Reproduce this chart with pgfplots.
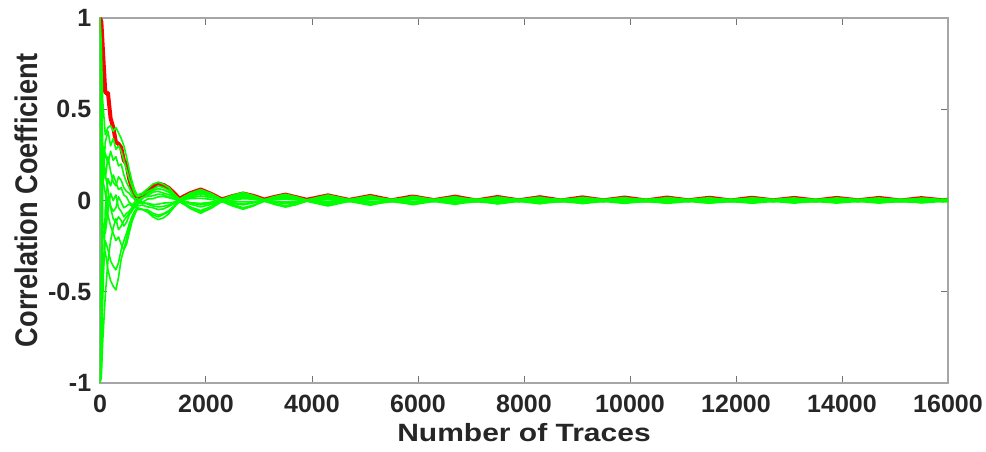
\documentclass[border=0pt]{standalone}
\usepackage{pgfplots}
\usepackage{pgfplotstable}
\pgfplotsset{compat=1.18}
\usepackage{fontspec}
\setmainfont{Liberation Sans}
\definecolor{mgreen}{RGB}{0,255,0}
\definecolor{mred}{RGB}{255,0,0}
\definecolor{txt}{RGB}{38,38,38}
\pgfplotstableread{
x r g1 g2 g3 g4 g5 g6 g7 g8 g9 g10 g11 g12
0 1.00 1.00 -1.00 1.00 -1.00 0.80 -1.00 1.00 -1.00 0.50 -0.60 1.00 -1.00
25 0.98 0.85 -0.70 0.40 -0.92 0.25 -0.97 -0.15 -0.82 0.30 -0.35 0.65 -0.55
50 0.85 0.55 0.05 0.18 -0.55 -0.12 -0.78 -0.32 -0.45 0.12 0.18 0.32 -0.22
100 0.59 0.36 0.32 0.26 -0.05 -0.18 -0.52 -0.28 -0.22 0.04 0.14 0.12 -0.12
150 0.59 0.40 0.38 0.20 0.12 -0.06 -0.33 -0.38 -0.27 -0.08 0.06 0.24 0.02
200 0.45 0.41 0.30 0.27 0.08 0.04 -0.22 -0.44 -0.33 -0.14 -0.04 0.16 -0.03
250 0.40 0.38 0.34 0.22 0.14 0.00 -0.15 -0.47 -0.36 -0.18 -0.10 0.10 -0.06
300 0.32 0.40 0.28 0.24 0.10 0.03 -0.10 -0.49 -0.38 -0.22 -0.12 0.08 -0.04
350 0.31 0.37 0.30 0.19 0.06 -0.04 -0.16 -0.42 -0.34 -0.20 -0.09 0.13 0.02
400 0.29 0.34 0.27 0.20 0.07 -0.06 -0.14 -0.32 -0.27 -0.24 -0.11 0.11 -0.01
450 0.22 0.30 0.22 0.14 0.03 -0.09 -0.11 -0.27 -0.22 -0.27 -0.14 0.07 -0.04
500 0.20 0.24 0.17 0.10 0.02 -0.07 -0.09 -0.21 -0.18 -0.24 -0.12 0.05 -0.03
550 0.12 0.17 0.12 0.07 -0.01 -0.06 -0.07 -0.15 -0.13 -0.18 -0.08 0.04 -0.02
600 0.07 0.11 0.08 0.04 -0.02 -0.04 -0.05 -0.11 -0.09 -0.12 -0.06 0.02 -0.03
650 0.02 0.06 0.04 0.01 -0.03 -0.02 -0.04 -0.07 -0.06 -0.08 -0.03 0.01 -0.01
700 0.00 0.03 0.02 -0.01 -0.02 -0.01 -0.03 -0.04 -0.04 -0.05 -0.02 0.01 0.00
800 0.030 0.040 0.030 0.015 -0.010 -0.018 -0.026 -0.050 -0.048 -0.050 0.010 -0.008 0.016
900 0.050 0.065 0.050 0.028 0.008 -0.015 -0.035 -0.052 -0.065 -0.060 0.038 -0.020 0.022
1000 0.075 0.090 0.062 0.046 0.010 -0.022 -0.040 -0.070 -0.090 -0.080 0.055 -0.030 0.026
1100 0.092 0.100 0.080 0.050 0.020 -0.020 -0.050 -0.080 -0.105 -0.090 0.065 -0.035 0.035
1200 0.085 0.088 0.070 0.040 0.022 -0.014 -0.046 -0.072 -0.095 -0.075 0.058 -0.032 0.030
1300 0.068 0.070 0.055 0.032 0.015 -0.012 -0.032 -0.055 -0.072 -0.062 0.045 -0.025 0.020
1400 0.040 0.036 0.026 0.018 0.008 -0.010 -0.016 -0.030 -0.036 -0.030 0.020 -0.008 0.010
1500 0.010 0.008 0.004 -0.003 0.006 -0.006 0.002 -0.008 -0.004 0.003 -0.005 0.005 -0.002
1700 0.040 0.040 0.033 0.020 0.010 -0.012 -0.020 -0.036 -0.044 -0.036 0.025 -0.012 0.014
1900 0.060 0.060 0.052 0.036 0.012 -0.016 -0.035 -0.055 -0.070 -0.062 0.044 -0.024 0.025
2100 0.036 0.038 0.030 0.023 0.006 -0.009 -0.022 -0.033 -0.042 -0.040 0.028 -0.015 0.016
2300 0.006 0.006 -0.002 0.004 -0.005 0.003 -0.004 0.005 -0.006 0.002 0.000 -0.003 0.004
2500 0.024 0.028 0.022 0.015 0.003 -0.004 -0.016 -0.022 -0.030 -0.026 0.018 -0.012 0.012
2700 0.038 0.044 0.036 0.022 0.010 -0.008 -0.024 -0.040 -0.048 -0.044 0.030 -0.018 0.016
2900 0.025 0.026 0.023 0.012 0.007 -0.006 -0.013 -0.025 -0.029 -0.028 0.019 -0.010 0.009
3100 0.005 0.004 0.003 -0.004 0.002 -0.003 0.004 -0.005 -0.002 0.005 -0.003 0.001 -0.004
3300 0.020 0.022 0.016 0.011 0.004 -0.006 -0.010 -0.019 -0.022 -0.018 0.014 -0.008 0.006
3500 0.032 0.034 0.028 0.016 0.008 -0.008 -0.018 -0.029 -0.036 -0.032 0.024 -0.012 0.013
3700 0.018 0.020 0.018 0.009 0.006 -0.004 -0.012 -0.017 -0.023 -0.020 0.015 -0.006 0.008
3900 0.004 0.003 -0.003 0.002 -0.002 0.004 -0.001 0.002 -0.004 -0.002 0.003 -0.004 0.001
4300 0.028 0.030 0.024 0.015 0.006 -0.006 -0.015 -0.024 -0.030 -0.027 0.020 -0.011 0.011
4700 0.003 0.005 -0.004 0.003 -0.006 0.004 -0.002 0.006 -0.005 0.002 -0.003 0.006 -0.006
5100 0.025 0.026 0.021 0.013 0.005 -0.005 -0.013 -0.021 -0.026 -0.023 0.017 -0.009 0.009
5500 0.001 -0.003 0.005 -0.005 0.004 -0.006 0.006 -0.002 0.003 -0.006 0.005 -0.004 0.002
5900 0.022 0.023 0.018 0.012 -0.005 0.005 -0.012 -0.018 -0.023 -0.021 0.015 -0.008 0.008
6300 0.002 0.005 -0.004 0.003 -0.006 0.004 -0.002 0.006 -0.005 0.002 -0.003 0.006 -0.006
6700 0.021 0.021 0.017 0.011 0.004 -0.004 -0.011 -0.017 -0.021 -0.019 0.014 -0.007 0.007
7100 0.000 -0.003 0.005 -0.005 0.004 -0.006 0.006 -0.002 0.003 -0.006 0.005 -0.004 0.002
7500 0.019 0.019 0.015 -0.007 0.004 -0.004 -0.010 -0.015 -0.019 -0.017 0.012 0.010 0.007
7900 0.001 0.005 -0.004 0.003 -0.006 0.004 -0.002 0.006 -0.005 0.002 -0.003 0.006 -0.006
8300 0.018 0.018 0.014 0.009 0.004 -0.004 -0.009 -0.014 -0.018 -0.016 0.012 -0.006 0.006
8700 0.000 -0.003 0.005 -0.005 0.004 -0.006 0.006 -0.002 0.003 -0.006 0.005 -0.004 0.002
9100 0.017 0.017 0.014 0.009 0.003 0.006 -0.009 -0.014 -0.017 -0.015 0.011 -0.006 -0.003
9500 0.001 0.005 -0.004 0.003 -0.006 0.004 -0.002 0.006 -0.005 0.002 -0.003 0.006 -0.006
9900 0.016 0.016 0.013 0.008 0.003 -0.003 -0.008 -0.013 -0.016 -0.014 0.010 -0.006 0.006
10300 0.000 -0.003 0.005 -0.005 0.004 -0.006 0.006 -0.002 0.003 -0.006 0.005 -0.004 0.002
10700 0.016 0.016 0.013 0.008 -0.008 -0.003 0.003 -0.013 -0.016 -0.014 0.010 -0.006 0.006
11100 0.001 0.005 -0.004 0.003 -0.006 0.004 -0.002 0.006 -0.005 0.002 -0.003 0.006 -0.006
11500 0.015 0.015 0.012 0.008 0.003 -0.003 -0.008 -0.012 -0.015 -0.014 0.010 -0.005 0.005
11900 0.000 -0.003 0.005 -0.005 0.004 -0.006 0.006 -0.002 0.003 -0.006 0.005 -0.004 0.002
12300 0.015 0.015 0.012 -0.005 0.003 -0.003 -0.008 -0.012 -0.015 -0.014 0.010 0.008 0.005
12700 0.001 0.005 -0.004 0.003 -0.006 0.004 -0.002 0.006 -0.005 0.002 -0.003 0.006 -0.006
13100 0.014 0.014 0.011 0.007 0.003 -0.003 -0.007 -0.011 -0.014 -0.013 0.009 -0.005 0.005
13500 0.000 -0.003 0.005 -0.005 0.004 -0.006 0.006 -0.002 0.003 -0.006 0.005 -0.004 0.002
13900 0.014 0.014 0.011 0.007 -0.003 0.003 -0.007 -0.011 -0.014 -0.013 0.009 -0.005 0.005
14300 0.001 0.005 -0.004 0.003 -0.006 0.004 -0.002 0.006 -0.005 0.002 -0.003 0.006 -0.006
14700 0.014 0.014 0.011 0.007 0.003 -0.003 -0.007 -0.011 -0.014 -0.013 0.009 -0.005 0.005
15100 0.000 -0.003 0.005 -0.005 0.004 -0.006 0.006 -0.002 0.003 -0.006 0.005 -0.004 0.002
15500 0.013 0.013 0.010 0.007 0.003 -0.003 -0.007 -0.010 -0.013 -0.012 0.008 -0.005 0.005
15900 0.001 0.005 -0.004 0.003 -0.006 0.004 -0.002 0.006 -0.005 0.002 -0.003 0.006 -0.006
16000 0.004 0.008 0.000 0.005 -0.003 0.001 -0.004 0.002 -0.008 -0.002 0.002 0.003 -0.003
}\data
\begin{document}
\begin{tikzpicture}
\begin{axis}[
  scale only axis,
  width=424pt, height=182.5pt,
  xmin=0, xmax=16000, ymin=-1, ymax=1,
  xtick={0,2000,4000,6000,8000,10000,12000,14000,16000},
  xticklabels={0,2000,4000,6000,8000,10000,12000,14000,16000},
  ytick={-1,-0.5,0,0.5,1},
  yticklabels={-1,-0.5,0,0.5,1},
  tick align=inside,
  major tick length=3.5pt,
  axis line style={color=black!35, line width=0.6pt},
  tick style={color=black!55, line width=0.5pt},
  ticklabel style={font=\bfseries\fontsize{12.5}{14}\selectfont, text=txt},
  xticklabel style={anchor=base, yshift=-15pt},
  yticklabel style={anchor=east, inner sep=0pt, xshift=-4.2pt},
  xlabel={\scalebox{1.2}[1]{Number of Traces}},
  ylabel={\scalebox{1}[1.15]{Correlation Coefficient}},
  xlabel style={font=\bfseries\fontsize{12.5}{14}\selectfont, text=txt, inner sep=0pt, at={(axis description cs:0.5,-0.1608)}, anchor=base},
  ylabel style={font=\bfseries\fontsize{13.6}{15}\selectfont, text=txt, inner sep=0pt, at={(axis description cs:-0.0867,0.5)}, anchor=center},
  clip=true,
]
\coordinate (sw) at (rel axis cs:0,0);
\coordinate (ne) at (rel axis cs:1,1);
\addplot[mred, line width=2pt, line join=round] table[x=x, y=r]{\data};
\pgfplotsinvokeforeach{g1,g2,g3,g4,g5,g6,g7,g8,g9,g10,g11,g12}{
  \addplot[mgreen, line width=0.8pt, line join=round] table[x=x, y=#1]{\data};
}
\end{axis}
\pgfresetboundingbox
\path[use as bounding box] ([shift={(-50pt,-34.5pt)}]sw) rectangle ([shift={(19pt,9pt)}]ne);
\end{tikzpicture}
\end{document}
